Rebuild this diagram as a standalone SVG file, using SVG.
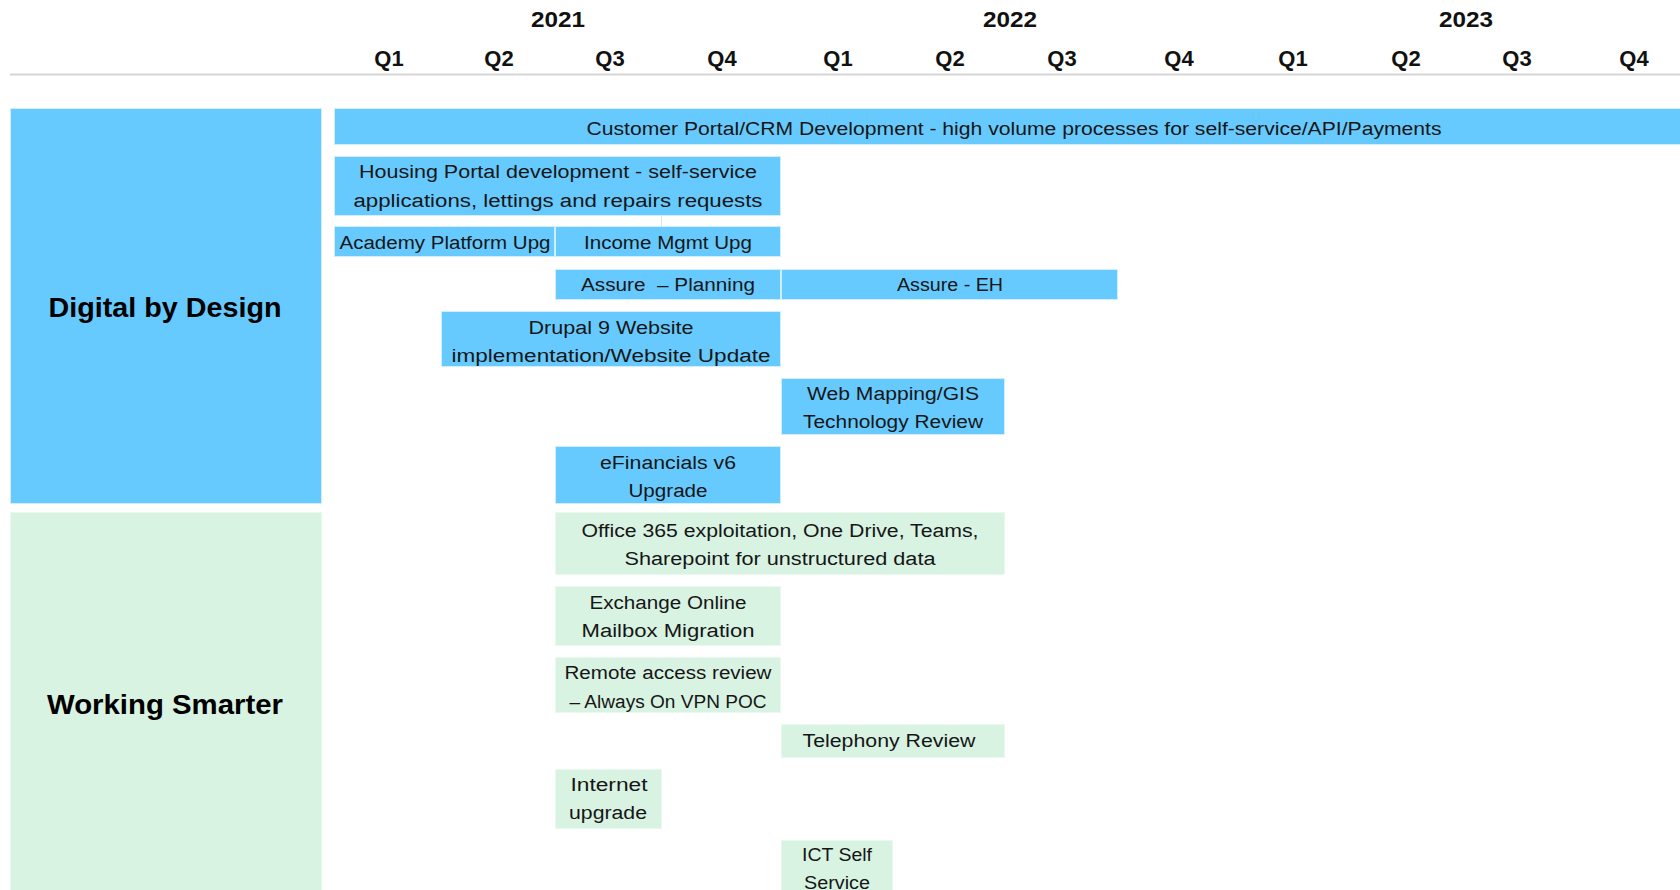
<svg xmlns="http://www.w3.org/2000/svg" width="1680" height="890" viewBox="0 0 1680 890">
<style>
.bg{fill:#ffffff}
.b{fill:#66CAFE;stroke:#CFEFFF;stroke-width:1}
.g{fill:#D8F3E2;stroke:#EAF9F0;stroke-width:1}
.t{font-family:"Liberation Sans",Arial,sans-serif;font-size:18px;fill:#161616;text-anchor:middle}
.h{font-family:"Liberation Sans",Arial,sans-serif;font-size:22px;font-weight:bold;fill:#111;text-anchor:middle}
.big{font-family:"Liberation Sans",Arial,sans-serif;font-size:28px;font-weight:bold;fill:#000;text-anchor:middle}
.sep{stroke:#CFE8F5;stroke-width:1}
</style>
<rect class="bg" x="0" y="0" width="1680" height="890"/>
<g id="header">
<text class="h" x="558" y="27" textLength="54" lengthAdjust="spacingAndGlyphs">2021</text>
<text class="h" x="1010" y="27" textLength="54" lengthAdjust="spacingAndGlyphs">2022</text>
<text class="h" x="1466" y="27" textLength="54" lengthAdjust="spacingAndGlyphs">2023</text>
<text class="h" x="389" y="66">Q1</text>
<text class="h" x="499" y="66">Q2</text>
<text class="h" x="610" y="66">Q3</text>
<text class="h" x="722" y="66">Q4</text>
<text class="h" x="838" y="66">Q1</text>
<text class="h" x="950" y="66">Q2</text>
<text class="h" x="1062" y="66">Q3</text>
<text class="h" x="1179" y="66">Q4</text>
<text class="h" x="1293" y="66">Q1</text>
<text class="h" x="1406" y="66">Q2</text>
<text class="h" x="1517" y="66">Q3</text>
<text class="h" x="1634" y="66">Q4</text>
<line x1="10" y1="74.5" x2="1680" y2="74.5" stroke="#D6D6D6" stroke-width="2"/>
</g>
<g id="digital-by-design">
<rect class="b" x="10.5" y="108.5" width="311" height="395"/>
<text class="big" x="165" y="317" textLength="233" lengthAdjust="spacingAndGlyphs">Digital by Design</text>
</g>
<g id="working-smarter">
<rect class="g" x="10.5" y="512.5" width="311" height="380"/>
<text class="big" x="165" y="714" textLength="236" lengthAdjust="spacingAndGlyphs">Working Smarter</text>
</g>
<g id="customer-portal">
<rect class="b" x="334.5" y="108.5" width="1350" height="36"/>
<text class="t" x="1014" y="135" textLength="855" lengthAdjust="spacingAndGlyphs">Customer Portal/CRM Development - high volume processes for self-service/API/Payments</text>
</g>
<g id="housing-portal">
<rect class="b" x="334.5" y="156.5" width="446" height="59"/>
<text class="t" x="558" y="178" textLength="398" lengthAdjust="spacingAndGlyphs">Housing Portal development - self-service</text>
<text class="t" x="558" y="207" textLength="409" lengthAdjust="spacingAndGlyphs">applications, lettings and repairs requests</text>
</g>
<line class="sep" x1="661.5" y1="216" x2="661.5" y2="226"/>
<g id="academy-platform">
<rect class="b" x="334.5" y="226.5" width="220" height="30"/>
<text class="t" x="445" y="249" textLength="211" lengthAdjust="spacingAndGlyphs">Academy Platform Upg</text>
</g>
<g id="income-mgmt">
<rect class="b" x="555.5" y="226.5" width="225" height="30"/>
<text class="t" x="668" y="249" textLength="168" lengthAdjust="spacingAndGlyphs">Income Mgmt Upg</text>
</g>
<g id="assure-planning">
<rect class="b" x="555.5" y="269.5" width="225" height="30"/>
<text class="t" x="668" y="291" textLength="174" lengthAdjust="spacingAndGlyphs">Assure&#160; – Planning</text>
</g>
<g id="assure-eh">
<rect class="b" x="781.5" y="269.5" width="336" height="30"/>
<text class="t" x="950" y="291" textLength="106" lengthAdjust="spacingAndGlyphs">Assure - EH</text>
</g>
<g id="drupal">
<rect class="b" x="441.5" y="311.5" width="339" height="55"/>
<text class="t" x="611" y="334" textLength="165" lengthAdjust="spacingAndGlyphs">Drupal 9 Website</text>
<text class="t" x="611" y="362" textLength="319" lengthAdjust="spacingAndGlyphs">implementation/Website Update</text>
</g>
<g id="web-mapping">
<rect class="b" x="781.5" y="378.5" width="223" height="56"/>
<text class="t" x="893" y="400" textLength="172" lengthAdjust="spacingAndGlyphs">Web Mapping/GIS</text>
<text class="t" x="893" y="428" textLength="180" lengthAdjust="spacingAndGlyphs">Technology Review</text>
</g>
<g id="efinancials">
<rect class="b" x="555.5" y="446.5" width="225" height="57"/>
<text class="t" x="668" y="469" textLength="136" lengthAdjust="spacingAndGlyphs">eFinancials v6</text>
<text class="t" x="668" y="497" textLength="79" lengthAdjust="spacingAndGlyphs">Upgrade</text>
</g>
<g id="office365">
<rect class="g" x="555.5" y="512.5" width="449" height="62"/>
<text class="t" x="780" y="537" textLength="397" lengthAdjust="spacingAndGlyphs">Office 365 exploitation, One Drive, Teams,</text>
<text class="t" x="780" y="565" textLength="311" lengthAdjust="spacingAndGlyphs">Sharepoint for unstructured data</text>
</g>
<g id="exchange-online">
<rect class="g" x="555.5" y="586.5" width="225" height="59"/>
<text class="t" x="668" y="609" textLength="157" lengthAdjust="spacingAndGlyphs">Exchange Online</text>
<text class="t" x="668" y="637" textLength="173" lengthAdjust="spacingAndGlyphs">Mailbox Migration</text>
</g>
<g id="remote-access">
<rect class="g" x="555.5" y="657.5" width="225" height="55"/>
<text class="t" x="668" y="679" textLength="207" lengthAdjust="spacingAndGlyphs">Remote access review</text>
<text class="t" x="668" y="708" textLength="197" lengthAdjust="spacingAndGlyphs">– Always On VPN POC</text>
</g>
<g id="telephony">
<rect class="g" x="781.5" y="724.5" width="223" height="33"/>
<text class="t" x="889" y="747" textLength="173" lengthAdjust="spacingAndGlyphs">Telephony Review</text>
</g>
<g id="internet-upgrade">
<rect class="g" x="555.5" y="769.5" width="106" height="59"/>
<text class="t" x="609" y="791" textLength="77" lengthAdjust="spacingAndGlyphs">Internet</text>
<text class="t" x="608" y="819" textLength="78" lengthAdjust="spacingAndGlyphs">upgrade</text>
</g>
<g id="ict-self-service">
<rect class="g" x="781.5" y="840.5" width="111" height="55"/>
<text class="t" x="837" y="861" textLength="70" lengthAdjust="spacingAndGlyphs">ICT Self</text>
<text class="t" x="837" y="889" textLength="66" lengthAdjust="spacingAndGlyphs">Service</text>
</g>
<g id="connectors"/>
</svg>
